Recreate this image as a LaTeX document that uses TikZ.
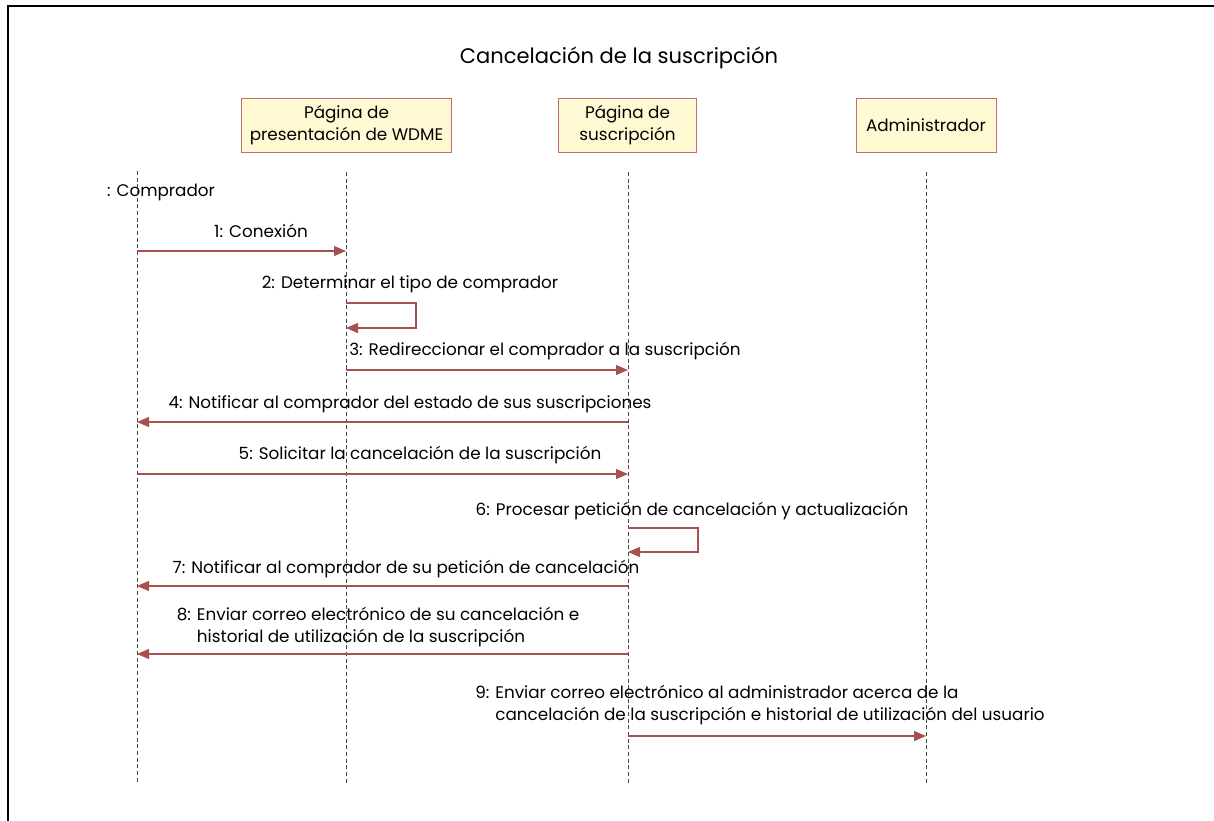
\documentclass[tikz,border=0pt]{standalone}
\usepackage{fontspec}
\setmainfont{Poppins}
\usetikzlibrary{arrows.meta,positioning}
\definecolor{msgred}{RGB}{166,80,80}
\definecolor{boxfill}{RGB}{255,250,212}
\definecolor{boxline}{RGB}{190,110,110}
\definecolor{lifegray}{RGB}{70,70,70}
\newcommand{\msgfont}{\fontsize{12.6}{17}\selectfont}

\begin{document}
\begin{tikzpicture}[x=0.75pt, y=-0.75pt,
    obj/.style={rectangle, draw=boxline, fill=boxfill, line width=0.6pt,
                minimum height=40.5pt, inner sep=0pt, align=center, font=\msgfont},
    life/.style={draw=lifegray, line width=0.6pt, dash pattern=on 3pt off 2pt},
    msg/.style={draw=msgred, line width=0.8pt, -{Triangle[length=9pt,width=7.5pt]}},
    lbl/.style={inner sep=0pt, align=left, font=\msgfont}
]
    \useasboundingbox (0,0) rectangle (1214,821);
    \draw[line width=1.8pt] (8,821) -- (8,6) -- (1214,6);

    % Title
    \node[font=\fontsize{15.8}{19}\selectfont] (title) at (619,58) {Cancelación de la suscripción};

    % Objects
    \node[obj, minimum width=158pt] (wdme) at (346.5,125) {Página de\\presentación de WDME};
    \node[obj, minimum width=104pt] (susc) at (627.5,125) {Página de\\suscripción};
    \node[obj, minimum width=105pt] (admin) at (926,125) {Administrador};
    \node[lbl] (comp) at (161,192) {: Comprador};

    % Lifelines
    \coordinate (cTop) at (137,171);  \coordinate (cBot) at (137,783);
    \coordinate (wTop) at (346,172);  \coordinate (wBot) at (346,783);
    \coordinate (sTop) at (628,172);  \coordinate (sBot) at (628,783);
    \coordinate (aTop) at (926,172);  \coordinate (aBot) at (926,783);
    \foreach \l in {c,w,s,a}
        \draw[life] (\l Top) -- (\l Bot);

    % Message rows
    \foreach \n/\y in {1/251, 2a/303, 2b/328, 3/370, 4/422, 5/474,
                       6a/528, 6b/552, 7/586, 8/654, 9/736}
        \coordinate (r\n) at (0,\y);

    % Messages
    \node[lbl] (l1) at (261,231) {1: Conexión};
    \draw[msg] (cTop |- r1) -- (wTop |- r1);

    \node[lbl] (l2) at (410,284) {2: Determinar el tipo de comprador};
    \draw[msg] (wTop |- r2a) -- ++(70,0) |- (wTop |- r2b);

    \node[lbl] (l3) at (545,351) {3: Redireccionar el comprador a la suscripción};
    \draw[msg] (wTop |- r3) -- (sTop |- r3);

    \node[lbl] (l4) at (410,404) {4: Notificar al comprador del estado de sus suscripciones};
    \draw[msg] (sTop |- r4) -- (cTop |- r4);

    \node[lbl] (l5) at (420,455) {5: Solicitar la cancelación de la suscripción};
    \draw[msg] (cTop |- r5) -- (sTop |- r5);

    \node[lbl] (l6) at (692,511) {6: Procesar petición de cancelación y actualización};
    \draw[msg] (sTop |- r6a) -- ++(70,0) |- (sTop |- r6b);

    \node[lbl] (l7) at (406,569) {7: Notificar al comprador de su petición de cancelación};
    \draw[msg] (sTop |- r7) -- (cTop |- r7);

    \node[lbl] (l8) at (378,627) {8: Enviar correo electrónico de su cancelación e\\
        \phantom{8: }historial de utilización de la suscripción};
    \draw[msg] (sTop |- r8) -- (cTop |- r8);

    \node[lbl] (l9) at (760,705) {9: Enviar correo electrónico al administrador acerca de la\\
        \phantom{9: }cancelación de la suscripción e historial de utilización del usuario};
    \draw[msg] (sTop |- r9) -- (aTop |- r9);
\end{tikzpicture}
\end{document}
